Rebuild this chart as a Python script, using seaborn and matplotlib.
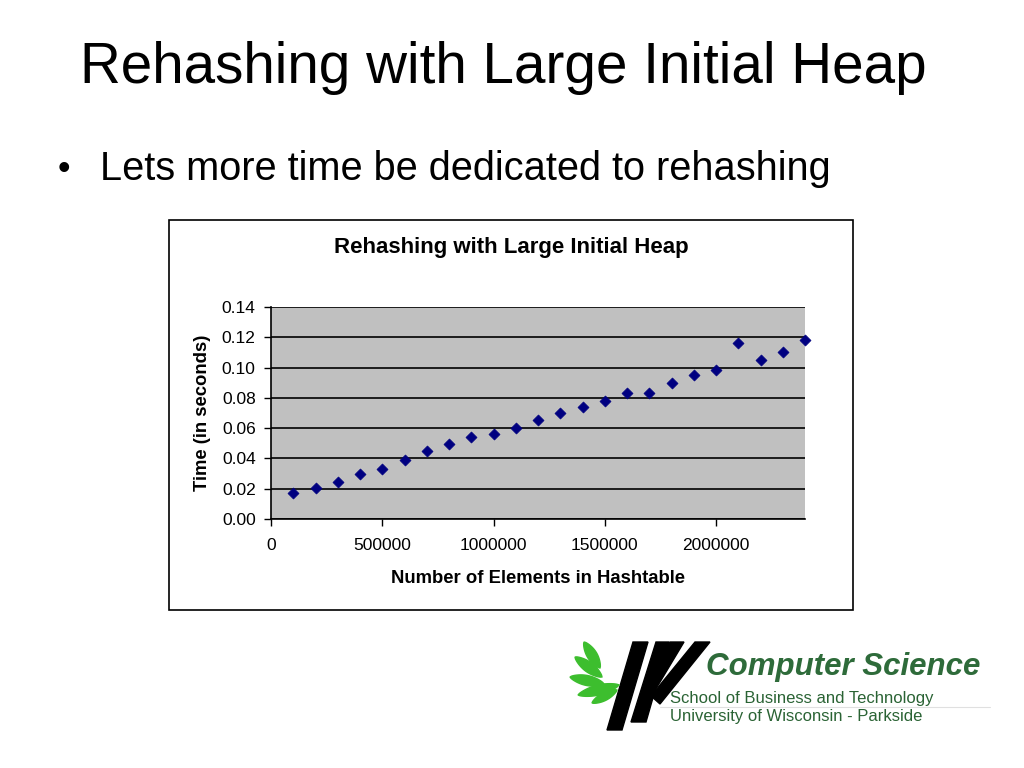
import numpy as np
import pandas as pd
import matplotlib
matplotlib.use("Agg")
import matplotlib.pyplot as plt
import seaborn as sns
from matplotlib.patches import Rectangle, Polygon

# Data
elements = [100000, 200000, 300000, 400000, 500000, 600000, 700000, 800000,
            900000, 1000000, 1100000, 1200000, 1300000, 1400000, 1500000, 1600000,
            1700000, 1800000, 1900000, 2000000, 2100000, 2200000, 2300000, 2400000]
seconds = [0.0172, 0.0208, 0.0247, 0.0295, 0.0332, 0.0388, 0.0446, 0.0493,
           0.0541, 0.0560, 0.0604, 0.0653, 0.0698, 0.0738, 0.0776, 0.0832,
           0.0832, 0.0896, 0.0953, 0.0982, 0.1160, 0.1048, 0.1104, 0.1180]
x_ticks = [0, 500000, 1000000, 1500000, 2000000]
y_ticks = [0.00, 0.02, 0.04, 0.06, 0.08, 0.10, 0.12, 0.14]

df = pd.DataFrame({"elements": elements, "seconds": seconds})

sns.set_theme(style="white")
plt.rcParams['font.family'] = ['Liberation Sans', 'DejaVu Sans']
plt.rcParams['text.color'] = 'black'
plt.rcParams['axes.labelcolor'] = 'black'
plt.rcParams['xtick.color'] = 'black'
plt.rcParams['ytick.color'] = 'black'

fig = plt.figure(figsize=(10.24, 7.68), dpi=100)
fig.patch.set_facecolor("white")

W, H = 1024, 768
def fx(px):
    return px / W
def fy(py):
    return 1 - py / H

# slide text
fig.text(fx(80), fy(68), "Rehashing with Large Initial Heap", fontsize=40.8,
         ha="left", va="center")
fig.text(fx(58), fy(169), "\u2022", fontsize=26, ha="left", va="center")
fig.text(fx(100), fy(169), "Lets more time be dedicated to rehashing", fontsize=28.6,
         ha="left", va="center")

# chart border box
fig.patches.append(Rectangle((fx(169), fy(610)), (853 - 169) / W, (610 - 220) / H,
                             transform=fig.transFigure, fill=False,
                             edgecolor="black", linewidth=1.2))

ax = fig.add_axes([fx(271), fy(519), (805 - 271) / W, (519 - 307) / H])
ax.set_facecolor("#C0C0C0")
sns.scatterplot(data=df, x="elements", y="seconds", marker="D", s=32,
                color="#000080", edgecolor="#000080", ax=ax, zorder=3, clip_on=False)

ax.set_xlim(0, 2400000)
ax.set_ylim(0, 0.14)
ax.set_xticks(x_ticks)
ax.set_xticklabels([str(t) for t in x_ticks], fontsize=12.5)
ax.set_yticks(y_ticks)
ax.set_yticklabels([f"{t:.2f}" for t in y_ticks], fontsize=12.5)
ax.yaxis.grid(True, color="black", linewidth=1.2)
ax.set_axisbelow(True)
ax.tick_params(axis="x", direction="out", length=5, width=1, bottom=True, pad=9)
ax.tick_params(axis="y", direction="out", length=5, width=1, left=True, pad=6)
for side in ["top", "right"]:
    ax.spines[side].set_visible(False)
for side in ["left", "bottom"]:
    ax.spines[side].set_color("black")
    ax.spines[side].set_linewidth(1.2)
ax.set_xlabel("Number of Elements in Hashtable", fontsize=13.3, fontweight="bold", labelpad=12)
ax.set_ylabel("Time (in seconds)", fontsize=13.3, fontweight="bold", labelpad=8)

fig.text(fx(511), fy(248), "Rehashing with Large Initial Heap", fontsize=16,
         fontweight="bold", ha="center", va="center")

# logo, drawn on an overlay in pixel coordinates
lg = fig.add_axes([0, 0, 1, 1])
lg.set_xlim(0, W)
lg.set_ylim(H, 0)
lg.axis("off")
lg.patch.set_alpha(0)

strokes = [
    [(633, 642), (648, 642), (622, 730), (607, 730)],
    [(656, 642), (669, 642), (646, 722), (631, 722)],
    [(670, 642), (684, 642), (654, 692), (646, 684)],
    [(695, 642), (710, 642), (660, 704), (651, 696)],
]
for pts in strokes:
    lg.add_patch(Polygon(pts, closed=True, color="black"))

def leaf(p0, p1, width):
    p0 = np.array(p0, float)
    p1 = np.array(p1, float)
    d = p1 - p0
    n = np.array([-d[1], d[0]]) / np.hypot(*d)
    t = np.linspace(0, 1, 24)
    prof = np.sin(np.pi * t) ** 0.7 * width / 2
    side_a = p0 + np.outer(t, d) + np.outer(prof, n)
    side_b = (p0 + np.outer(t, d) - np.outer(prof, n))[::-1]
    return np.vstack([side_a, side_b])

leaves = [((584, 642), (600, 668), 10), ((575, 657), (602, 677), 10),
          ((570, 677), (604, 684), 10), ((578, 695), (619, 685), 10),
          ((592, 703), (617, 690), 8)]
for p0, p1, w in leaves:
    lg.add_patch(Polygon(leaf(p0, p1, w), closed=True, color="#3DBE2E"))

lg.text(706, 667, "Computer Science", fontsize=22.5, fontweight="bold",
        fontstyle="italic", color="#2E6B3A", ha="left", va="center")
lg.text(670, 698, "School of Business and Technology", fontsize=12,
        color="#2A6334", ha="left", va="center")
lg.text(670, 716, "University of Wisconsin - Parkside", fontsize=12,
        color="#2A6334", ha="left", va="center")
lg.plot([660, 990], [707, 707], color="#E0E0E0", linewidth=0.8)

fig.savefig("out.png", dpi=100)
